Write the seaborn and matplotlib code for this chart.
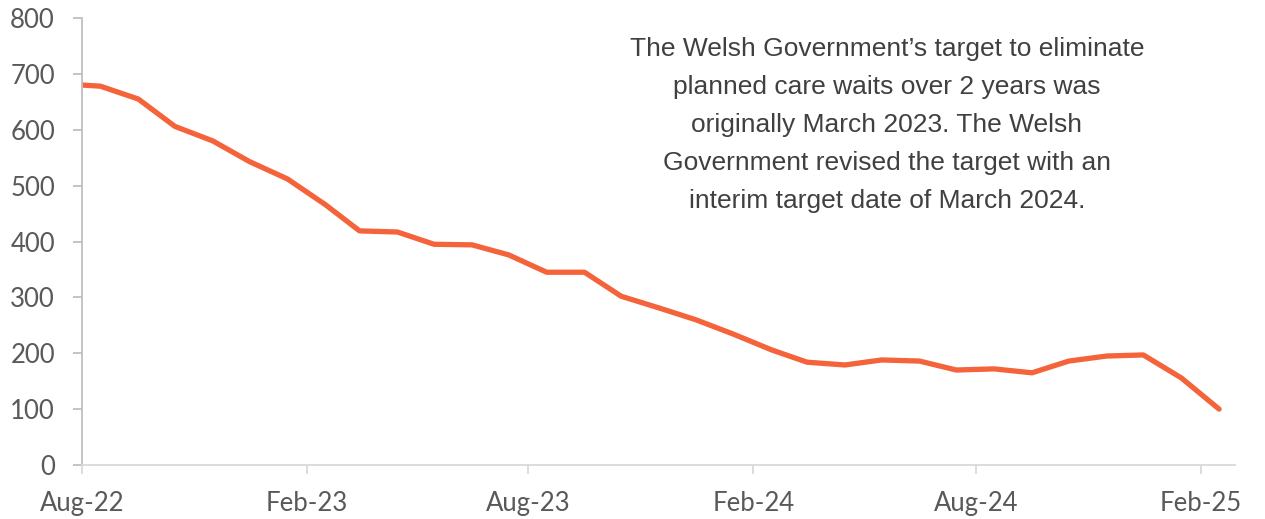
import matplotlib
matplotlib.use("Agg")
import matplotlib.pyplot as plt
import seaborn as sns
import pandas as pd

# Patients waiting over two years for planned care (Wales)
dates = ["2022-08-01", "2022-08-16"] + [
    d.strftime("%Y-%m-%d")
    for d in pd.date_range("2022-09-01", "2025-02-01", freq="MS") + pd.Timedelta(days=15)
]
waits = [680, 678, 655, 606, 580, 543, 512, 466, 419, 417, 395, 394, 376, 345,
         345, 302, 281, 260, 234, 206, 184, 179, 188, 186, 170, 172, 165, 186,
         195, 197, 156, 100]

tick_dates = ["2022-08-01", "2023-02-01", "2023-08-01", "2024-02-01",
              "2024-08-01", "2025-02-01"]
tick_labels = ["Aug-22", "Feb-23", "Aug-23", "Feb-24", "Aug-24", "Feb-25"]
y_ticks = [0, 100, 200, 300, 400, 500, 600, 700, 800]

note = ("The Welsh Government\u2019s target to eliminate\n"
        "planned care waits over 2 years was\n"
        "originally March 2023. The Welsh\n"
        "Government revised the target with an\n"
        "interim target date of March 2024.")

df = pd.DataFrame({"date": pd.to_datetime(dates), "waits": waits})

sns.set_theme(style="white")
plt.rcParams["font.family"] = ["Lato", "DejaVu Sans"]

W, H = 1265, 519
fig = plt.figure(figsize=(W / 100, H / 100), dpi=100)
ax = fig.add_axes([82 / W, 1 - 465 / H, (1235 - 82) / W, (465 - 18) / H])

sns.lineplot(data=df, x="date", y="waits", ax=ax, color="#F4633A",
             linewidth=3.8, solid_capstyle="round", solid_joinstyle="round")

ax.set_xlim(pd.Timestamp("2022-08-01"), pd.Timestamp("2025-03-01"))
ax.set_ylim(0, 800)
ax.set_xticks(pd.to_datetime(tick_dates))
ax.set_xticklabels(tick_labels)
ax.set_yticks(y_ticks)
ax.set_xlabel("")
ax.set_ylabel("")

for side in ["top", "right"]:
    ax.spines[side].set_visible(False)
ax.spines["left"].set_color("#BFBFBF")
ax.spines["bottom"].set_color("#D9D9D9")
ax.spines["left"].set_linewidth(1.3)
ax.spines["bottom"].set_linewidth(1.3)

ax.tick_params(axis="y", which="major", left=True, length=6.5, width=1.3,
               color="#BFBFBF", labelsize=18.5, labelcolor="#595959", pad=13)
ax.tick_params(axis="x", which="major", bottom=True, length=6.5, width=1.3,
               color="#D9D9D9", labelsize=18.5, labelcolor="#595959", pad=12)

ax.text(887 / W, 1 - 37 / H, note, transform=fig.transFigure,
        ha="center", va="top", fontsize=19, color="#404040",
        family=["Liberation Sans", "DejaVu Sans"], linespacing=1.74)

fig.savefig("out.png", dpi=100)
